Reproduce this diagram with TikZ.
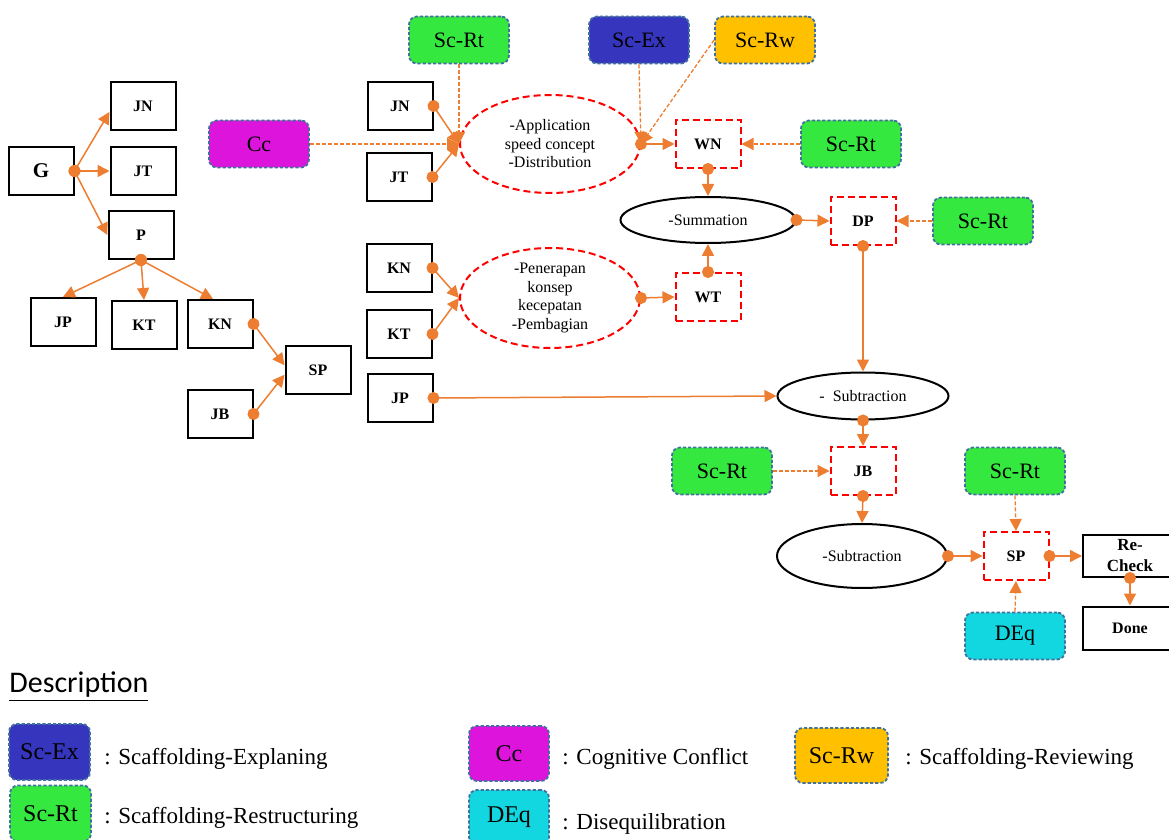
\documentclass[tikz,border=0pt]{standalone}
\usepackage{fontspec}
\setmainfont{Liberation Serif}
\newfontfamily\descfont{Carlito}
\usetikzlibrary{arrows.meta,shapes.geometric}

\definecolor{lineor}{HTML}{ED7D31}
\definecolor{rtgreen}{HTML}{35E83F}
\definecolor{exblue}{HTML}{3535BD}
\definecolor{rwyellow}{HTML}{FFC000}
\definecolor{ccpink}{HTML}{DC14DC}
\definecolor{deqcyan}{HTML}{12D6E0}
\definecolor{scborder}{HTML}{41719C}

\begin{document}
\begin{tikzpicture}[x=0.5pt,y=-0.5pt,
    box/.style={draw,line width=1pt,minimum width=32.5pt,minimum height=24pt,
      inner sep=1pt,font=\fontsize{8}{9}\selectfont\bfseries},
    redbox/.style={box,draw=red,dash pattern=on 3.5pt off 2pt},
    scbox/.style={draw=scborder,line width=0.9pt,dash pattern=on 1.6pt off 1pt,
      rounded corners=4pt,minimum width=50pt,minimum height=23.5pt,
      font=\fontsize{11}{13}\selectfont},
    legbox/.style={scbox,minimum width=40.5pt,minimum height=28pt,
      font=\fontsize{12}{14}\selectfont},
    legtext/.style={anchor=base west,inner sep=0pt,font=\fontsize{11.5}{14}\selectfont},
    redell/.style={ellipse,draw=red,line width=1pt,dash pattern=on 3.5pt off 2pt,
      minimum width=90pt,minimum height=49pt,inner sep=0pt,align=center,
      font=\fontsize{8}{9.25}\selectfont},
    blkell/.style={ellipse,draw,line width=1pt,inner sep=0pt,
      font=\fontsize{8}{9.25}\selectfont},
    conn/.style={lineor,line width=0.75pt,shorten <=-3pt,
      {Circle[length=6pt]}-{Triangle[length=6pt,width=6pt]}},
    scconn/.style={lineor,line width=0.65pt,dash pattern=on 2pt off 1pt,
      -{Triangle[length=6pt,width=6pt]}}]
  \useasboundingbox (0,0) rectangle (1169,840);

  \node[box,font=\fontsize{10.5}{12}\selectfont\bfseries] (g) at (41,171) {G};
  \node[box] (jnl) at (143,106) {JN};
  \node[box] (jtl) at (143,171) {JT};
  \node[box] (p) at (141,235) {P};
  \node[box] (jpl) at (63,322) {JP};
  \node[box] (ktl) at (144,325) {KT};
  \node[box] (knl) at (220,324) {KN};
  \node[box] (spl) at (318,370) {SP};
  \node[box] (jbl) at (220,414) {JB};

  \node[scbox,fill=ccpink] (cc) at (259,144) {Cc};
  \node[scbox,fill=rtgreen] (rta) at (459,40) {Sc-Rt};
  \node[scbox,fill=exblue] (ex) at (639,40) {Sc-Ex};
  \node[scbox,fill=rwyellow] (rw) at (765,40) {Sc-Rw};

  \node[box] (jnm) at (400,106) {JN};
  \node[box] (jtm) at (399,177) {JT};
  \node[redell] (app) at (550,144) {-Application\\speed concept\\-Distribution};
  \node[redbox] (wn) at (708,144) {WN};
  \node[scbox,fill=rtgreen] (rtb) at (851,144) {Sc-Rt};
  \node[blkell,minimum width=87.5pt,minimum height=23pt] (sum) at (708,220) {-Summation};
  \node[redbox] (dp) at (863,221) {DP};
  \node[scbox,fill=rtgreen] (rtc) at (983,221) {Sc-Rt};

  \node[box] (knm) at (399,268) {KN};
  \node[box] (ktm) at (399,334) {KT};
  \node[redell,minimum height=50pt] (pen) at (550,298) {-Penerapan\\konsep\\kecepatan\\-Pembagian};
  \node[redbox] (wt) at (708,297) {WT};
  \node[box] (jpm) at (400,398) {JP};

  \node[blkell,minimum width=85.5pt,minimum height=23.5pt] (suba) at (863,396) {-\ \ Subtraction};
  \node[scbox,fill=rtgreen] (rtd) at (722,471) {Sc-Rt};
  \node[redbox] (jbr) at (863,471) {JB};
  \node[blkell,minimum width=85pt,minimum height=32pt] (subb) at (862,556) {-Subtraction};
  \node[redbox] (spr) at (1016,556) {SP};
  \node[scbox,fill=rtgreen] (rte) at (1015,471) {Sc-Rt};
  \node[scbox,fill=deqcyan] (deq) at (1015,636) {DEq};
  \node[box,minimum width=47pt,minimum height=21pt,inner sep=0pt,align=center,
    font=\fontsize{8.5}{10.5}\selectfont\bfseries] (rc) at (1130,556) {Re-\\Check};
  \node[box,minimum width=47pt,minimum height=21.5pt] (done) at (1130,628) {Done};

  \draw[conn] (g.east) -- (jnl.190);
  \draw[conn] (g.east) -- (jtl.west);
  \draw[conn] (g.east) -- (p.west);
  \draw[conn] (p.south) -- (jpl.north);
  \draw[conn] (p.south) -- (ktl.north);
  \draw[conn] (p.south) -- ([xshift=-3.5pt]knl.north);
  \draw[conn] (knl.east) -- (spl.172);
  \draw[conn] (jbl.east) -- (spl.188);

  \draw[conn] (jnm.east) -- (app.west);
  \draw[conn] (jtm.east) -- (app.west);
  \draw[scconn] (cc.east) -- (app.west);
  \draw[scconn] (rta.south) -- (app.west);
  \draw[scconn] (ex.south) -- (app.east);
  \draw[scconn] (rw.west) -- (app.east);
  \draw[conn] (app.east) -- (wn.west);
  \draw[scconn] (rtb.west) -- (wn.east);
  \draw[conn] (wn.south) -- (sum.north);
  \draw[conn] (wt.north) -- (sum.south);
  \draw[conn] (sum.east) -- (dp.west);
  \draw[scconn] (rtc.west) -- (dp.east);

  \draw[conn] (knm.east) -- (pen.west);
  \draw[conn] (ktm.east) -- (pen.west);
  \draw[conn] (pen.east) -- (wt.west);
  \draw[conn] (dp.south) -- (suba.north);
  \draw[conn] (jpm.east) -- (suba.west);
  \draw[conn] (suba.south) -- (jbr.north);
  \draw[scconn] (rtd.east) -- (jbr.west);
  \draw[conn] (jbr.south) -- (subb.north);
  \draw[conn] (subb.east) -- (spr.west);
  \draw[scconn] (rte.south) -- (spr.north);
  \draw[scconn] (deq.north) -- (spr.south);
  \draw[conn] (spr.east) -- (rc.west);
  \draw[conn] (rc.south) -- (done.north);

  \node[anchor=west,inner sep=0pt,font=\descfont\fontsize{15}{18}\selectfont] (desc) at (9,687) {\underline{Description}};
  \node[legbox,fill=exblue] (lex) at (49.5,752) {Sc-Ex};
  \node[legtext] (lext) at (104,764) {: Scaffolding-Explaning};
  \node[legbox,fill=rtgreen] (lrt) at (50.5,813.5) {Sc-Rt};
  \node[legtext] (lrtt) at (104,823) {: Scaffolding-Restructuring};
  \node[legbox,minimum width=40pt,minimum height=27.5pt,fill=ccpink] (lcc) at (509,753.5) {Cc};
  \node[legtext] (lcct) at (562,764) {: Cognitive Conflict};
  \node[legbox,minimum width=40pt,minimum height=27.5pt,fill=deqcyan] (ldeq) at (509,817.5) {DEq};
  \node[legtext] (ldeqt) at (562,829) {: Disequilibration};
  \node[legbox,minimum width=46.5pt,minimum height=27.5pt,fill=rwyellow] (lrw) at (841.5,755.5) {Sc-Rw};
  \node[legtext] (lrwt) at (905,764) {: Scaffolding-Reviewing};
\end{tikzpicture}
\end{document}
